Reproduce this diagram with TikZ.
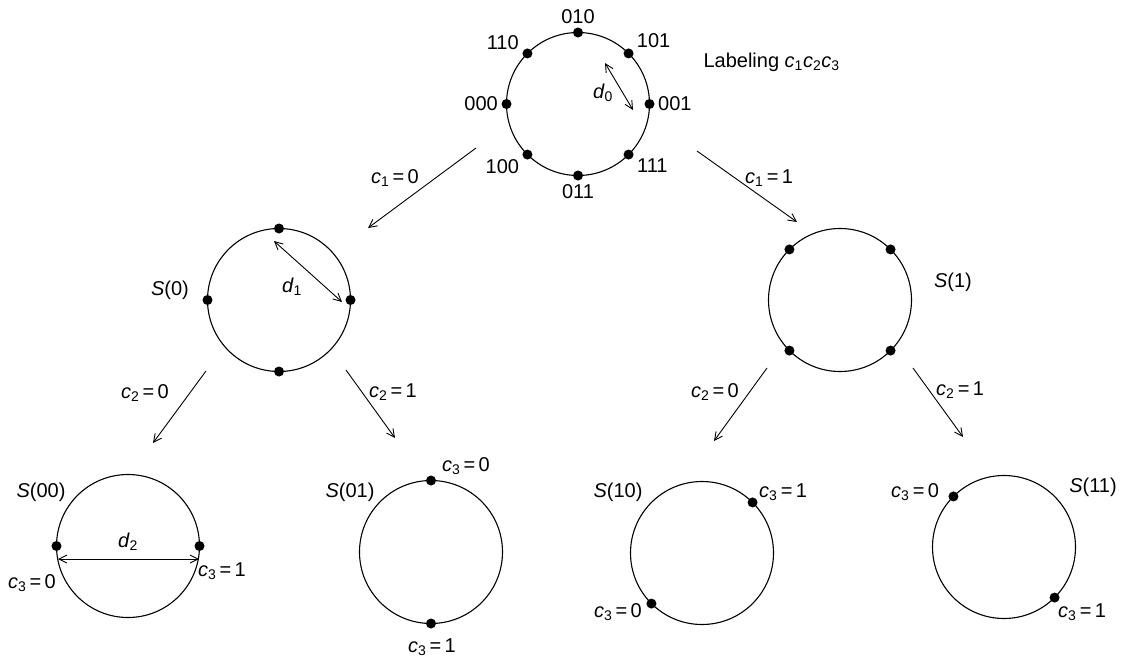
\documentclass[tikz,border=0pt]{standalone}
\usepackage{fontspec}
\setmainfont{Liberation Sans}
\usetikzlibrary{arrows.meta}

\newcommand{\cv}[1]{\textit{c}\textsubscript{#1}}
\newcommand{\dv}[1]{\textit{d}\textsubscript{#1}}

\begin{document}
\begin{tikzpicture}[
  x=1pt, y=-1pt,
  font=\fontsize{20}{24}\selectfont,
  ring/.style={circle, draw, line width=1.1pt, minimum size=143pt, inner sep=0pt, outer sep=0pt},
  bead/.style={circle, fill, inner sep=0pt, minimum size=10pt, label distance=0pt},
  branch/.style={line width=0.9pt, -{Straight Barb[length=8pt, width=8pt]}},
  span/.style={line width=0.9pt, {Straight Barb[length=8pt, width=8pt]}-{Straight Barb[length=8pt, width=8pt]}}
]
  \useasboundingbox (0,0) rectangle (1130,662);

  % level 0
  \node[ring] (top) at (578,104) {};
  \node[bead, label={above:010}] (b010) at (top.90) {};
  \node[bead, label={175:110}] (b110) at (top.135) {};
  \node[bead, label={20:101}] (b101) at (top.45) {};
  \node[bead, label={left:000}] (b000) at (top.180) {};
  \node[bead, label={right:001}] (b001) at (top.0) {};
  \node[bead, label={-10:111}] (b111) at (top.315) {};
  \node[bead, label={200:100}] (b100) at (top.225) {};
  \node[bead, label={below:011}] (b011) at (top.270) {};
  \coordinate (d0a) at (605,63);
  \coordinate (d0b) at (633,110);
  \draw[span] (d0a) -- (d0b);
  \node (d0) at (603,93) {\dv{0}};
  \node[anchor=west] (title) at (700,62) {Labeling \cv{1}\cv{2}\cv{3}};

  % level 1
  \node[ring] (s0) at (279,300) {};
  \node[bead] (s0a) at (s0.90) {};
  \node[bead] (s0b) at (s0.180) {};
  \node[bead] (s0c) at (s0.0) {};
  \node[bead] (s0d) at (s0.270) {};
  \coordinate (d1a) at (274,241);
  \coordinate (d1b) at (342,302);
  \draw[span] (d1a) -- (d1b);
  \node (d1) at (292,287) {\dv{1}};
  \node (ls0) at (170,290) {\textit{S}(0)};

  \node[ring] (s1) at (840,300) {};
  \node[bead] (s1a) at (s1.45) {};
  \node[bead] (s1b) at (s1.135) {};
  \node[bead] (s1c) at (s1.225) {};
  \node[bead] (s1d) at (s1.315) {};
  \node (ls1) at (953,282) {\textit{S}(1)};

  \coordinate (e1a) at (476,148);
  \coordinate (e1b) at (368,228);
  \coordinate (e2a) at (697,151);
  \coordinate (e2b) at (797,222);
  \draw[branch] (e1a) -- (e1b);
  \draw[branch] (e2a) -- (e2b);
  \node (c10) at (395,178) {\cv{1}\,=\,0};
  \node (c11) at (769,178) {\cv{1}\,=\,1};

  % level 2
  \node[ring] (s00) at (128,546) {};
  \node[bead] (s00a) at (s00.180) {};
  \node[bead] (s00b) at (s00.0) {};
  \coordinate (d2a) at (58,559);
  \coordinate (d2b) at (199,559);
  \draw[span] (d2a) -- (d2b);
  \node (d2) at (128,542) {\dv{2}};
  \node (ls00) at (41,492) {\textit{S}(00)};
  \node (l00a) at (32,583) {\cv{3}\,=\,0};
  \node (l00b) at (222,571) {\cv{3}\,=\,1};

  \node[ring] (s01) at (431,552) {};
  \node[bead] (s01a) at (s01.90) {};
  \node[bead] (s01b) at (s01.270) {};
  \node (ls01) at (350,492) {\textit{S}(01)};
  \node (l01a) at (466,466) {\cv{3}\,=\,0};
  \node (l01b) at (432,647) {\cv{3}\,=\,1};

  \node[ring] (s10) at (702,553) {};
  \node[bead] (s10a) at (s10.45) {};
  \node[bead] (s10b) at (s10.225) {};
  \node (ls10) at (618,492) {\textit{S}(10)};
  \node (l10a) at (783,492) {\cv{3}\,=\,1};
  \node (l10b) at (618,612) {\cv{3}\,=\,0};

  \node[ring] (s11) at (1004,547) {};
  \node[bead] (s11a) at (s11.135) {};
  \node[bead] (s11b) at (s11.315) {};
  \node (ls11) at (1093,487) {\textit{S}(11)};
  \node (l11a) at (915,492) {\cv{3}\,=\,0};
  \node (l11b) at (1082,612) {\cv{3}\,=\,1};

  \coordinate (f1a) at (206,371);
  \coordinate (f1b) at (153,443);
  \coordinate (f2a) at (346,370);
  \coordinate (f2b) at (395,438);
  \coordinate (f3a) at (767,368);
  \coordinate (f3b) at (714,441);
  \coordinate (f4a) at (913,368);
  \coordinate (f4b) at (963,437);
  \draw[branch] (f1a) -- (f1b);
  \draw[branch] (f2a) -- (f2b);
  \draw[branch] (f3a) -- (f3b);
  \draw[branch] (f4a) -- (f4b);
  \node (c20l) at (145,393) {\cv{2}\,=\,0};
  \node (c21l) at (393,392) {\cv{2}\,=\,1};
  \node (c20r) at (715,392) {\cv{2}\,=\,0};
  \node (c21r) at (960,390) {\cv{2}\,=\,1};
\end{tikzpicture}
\end{document}
